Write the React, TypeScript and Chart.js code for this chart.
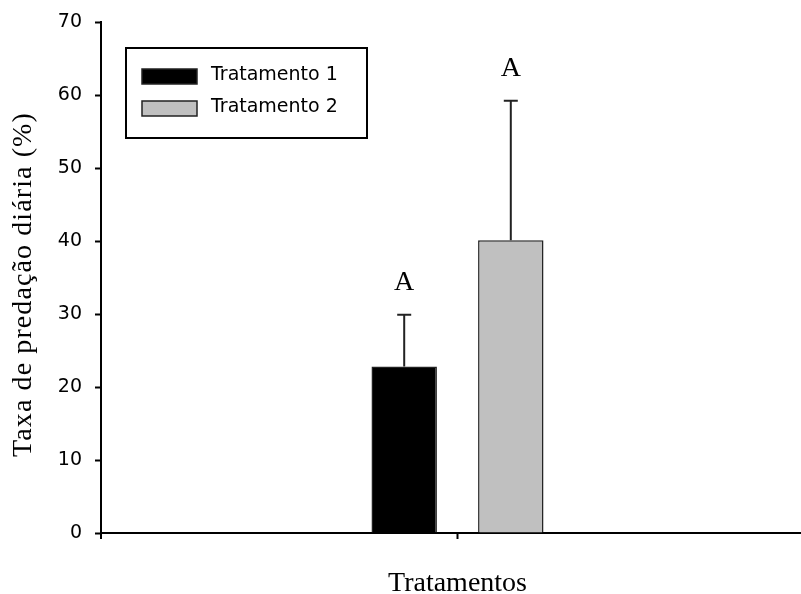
import React, { useEffect, useRef } from 'react';
import { Chart, registerables } from 'chart.js';

Chart.register(...registerables);

// ---- data ----
const categories = [''];
const seriesNames = ['Tratamento 1', 'Tratamento 2'];
const treatment1 = [22.8];
const treatment2 = [40.1];
const error1 = [7.1];
const error2 = [19.1];
const letters1 = ['A'];
const letters2 = ['A'];
const yMin = 0;
const yMax = 70;
const yStep = 10;
const xTitle = 'Tratamentos';
const yTitle = 'Taxa de predação diária (%)';

const colors = ['#000000', '#c0c0c0'];
const errors = [error1, error2];
const letters = [letters1, letters2];

const sans = '"DejaVu Sans", sans-serif';
const serif = '"Liberation Serif", "Times New Roman", serif';

const overlayPlugin = {
  id: 'overlay',
  afterDraw(chart: any) {
    const ctx = chart.ctx as CanvasRenderingContext2D;
    const area = chart.chartArea;
    const y = chart.scales.y;
    ctx.save();

    // error bars + letters
    chart.data.datasets.forEach((ds: any, i: number) => {
      const meta = chart.getDatasetMeta(i);
      meta.data.forEach((el: any, j: number) => {
        const v = ds.data[j];
        const e = errors[i][j];
        const top = y.getPixelForValue(v + e);
        ctx.strokeStyle = '#222';
        ctx.lineWidth = 2;
        ctx.beginPath();
        ctx.moveTo(el.x, el.y);
        ctx.lineTo(el.x, top);
        ctx.moveTo(el.x - 7, top);
        ctx.lineTo(el.x + 7, top);
        ctx.stroke();
        ctx.fillStyle = '#000';
        ctx.font = `28px ${serif}`;
        ctx.textAlign = 'center';
        ctx.textBaseline = 'alphabetic';
        ctx.fillText(letters[i][j], el.x, top - 25);
      });
    });

    // small extension of y axis below x axis
    ctx.strokeStyle = '#000';
    ctx.lineWidth = 2;
    ctx.beginPath();
    ctx.moveTo(area.left, area.bottom);
    ctx.lineTo(area.left, area.bottom + 6);
    ctx.stroke();

    // legend
    const lx = area.left + 25;
    const ly = area.top + 26;
    ctx.lineWidth = 2;
    ctx.strokeStyle = '#000';
    ctx.strokeRect(lx, ly, 241, 90);
    ctx.font = `19px ${sans}`;
    ctx.textAlign = 'left';
    ctx.textBaseline = 'middle';
    seriesNames.forEach((name, i) => {
      const sy = ly + 21 + i * 32;
      ctx.fillStyle = colors[i];
      ctx.fillRect(lx + 16, sy, 55, 15);
      ctx.lineWidth = 1.5;
      ctx.strokeStyle = '#222';
      ctx.strokeRect(lx + 16, sy, 55, 15);
      ctx.fillStyle = '#000';
      ctx.fillText(name, lx + 85, sy + 6);
    });

    // axis titles
    ctx.fillStyle = '#000';
    ctx.font = `28px ${serif}`;
    ctx.textAlign = 'center';
    ctx.textBaseline = 'alphabetic';
    ctx.fillText(xTitle, (area.left + area.right) / 2, area.bottom + 58);

    ctx.translate(23, (area.top + area.bottom) / 2 + 7);
    ctx.rotate(-Math.PI / 2);
    (ctx as any).letterSpacing = '1.1px';
    ctx.fillText(yTitle, 0, 0);

    ctx.restore();
  },
};

export default function App() {
  const ref = useRef<HTMLCanvasElement>(null);

  useEffect(() => {
    if (!ref.current) return;
    const chart = new Chart(ref.current, {
      type: 'bar',
      data: {
        labels: categories,
        datasets: [
          {
            label: seriesNames[0],
            data: treatment1,
            backgroundColor: colors[0],
            borderColor: '#222',
            borderWidth: 1.5,
            categoryPercentage: 0.299,
            barPercentage: 0.614,
          },
          {
            label: seriesNames[1],
            data: treatment2,
            backgroundColor: colors[1],
            borderColor: '#222',
            borderWidth: 1.5,
            categoryPercentage: 0.299,
            barPercentage: 0.614,
          },
        ],
      },
      options: {
        animation: false,
        responsive: false,
        devicePixelRatio: 1,
        layout: { padding: { top: 14, left: 0, right: 0, bottom: 0 } },
        plugins: {
          legend: { display: false },
          tooltip: { enabled: false },
          title: { display: false },
        },
        scales: {
          x: {
            grid: {
              display: true,
              drawOnChartArea: false,
              offset: false,
              tickLength: 6,
              tickWidth: 2,
              tickColor: '#000',
            },
            border: { display: true, color: '#000', width: 2 },
            ticks: { display: false },
            afterFit: (s: any) => {
              s.height = 61;
              s.paddingLeft = 0;
              s.paddingRight = 0;
            },
          },
          y: {
            min: yMin,
            max: yMax,
            grid: {
              display: true,
              drawOnChartArea: false,
              tickLength: 6,
              tickWidth: 2,
              tickColor: '#000',
            },
            border: { display: true, color: '#000', width: 2 },
            ticks: {
              stepSize: yStep,
              color: '#000',
              padding: 13,
              font: { family: sans, size: 19 },
            },
            afterFit: (s: any) => {
              s.width = 93;
              s.paddingTop = 0;
              s.paddingBottom = 0;
            },
          },
        },
      },
      plugins: [overlayPlugin],
    });
    return () => chart.destroy();
  }, []);

  return (
    <div
      style={{
        position: 'fixed',
        left: 8,
        top: 8,
        width: 793,
        height: 586,
        overflow: 'hidden',
      }}
    >
      <canvas ref={ref} width={806} height={586} style={{ display: 'block' }} />
    </div>
  );
}
